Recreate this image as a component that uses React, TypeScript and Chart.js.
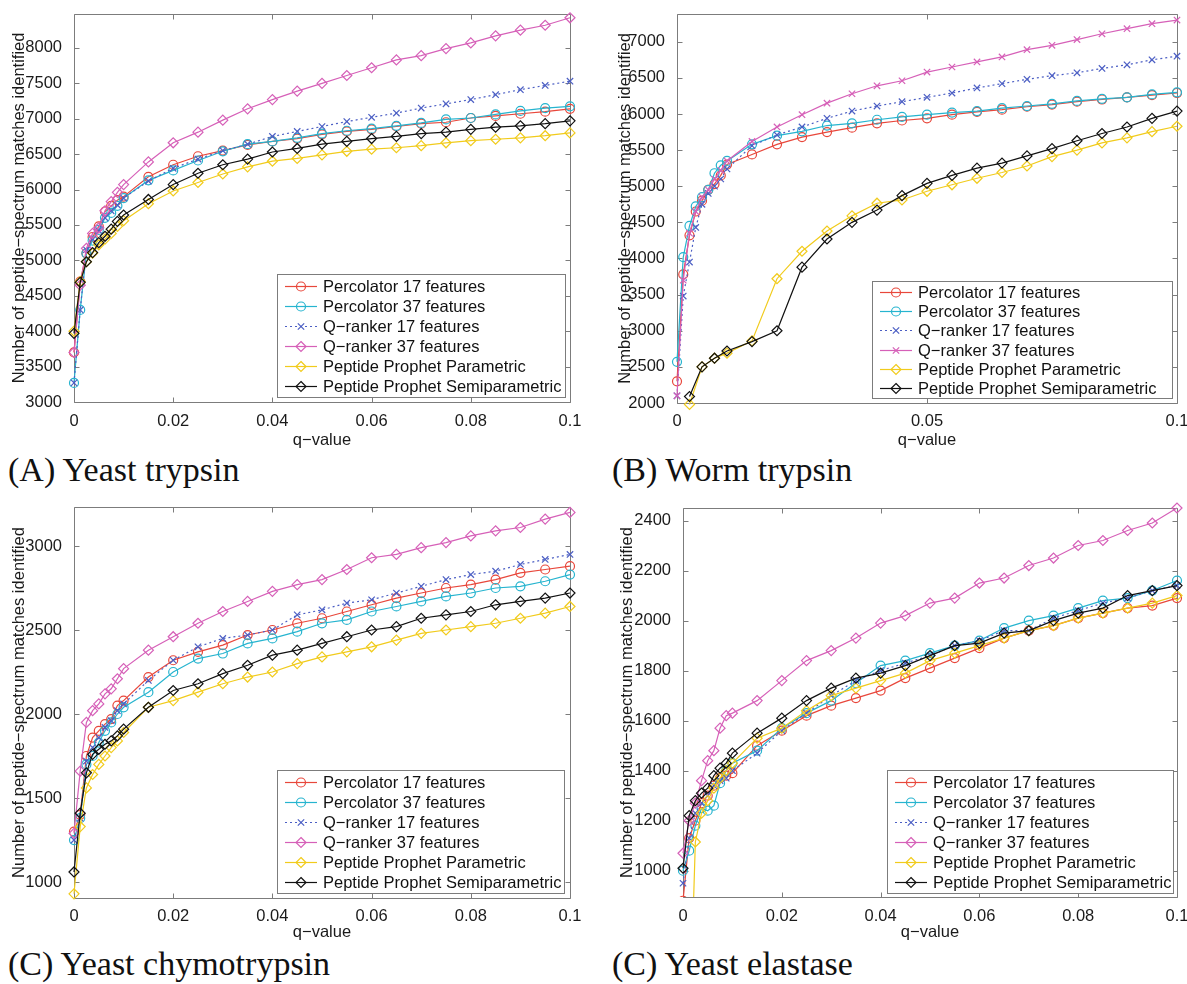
import React, { useEffect, useRef } from "react";
import { Chart, registerables } from "chart.js";

Chart.register(...registerables);

// ---------- data ----------
const Q_VALUES = [0, 0.00125, 0.0025, 0.00375, 0.005, 0.00625, 0.0075, 0.00875, 0.01, 0.015, 0.02, 0.025, 0.03, 0.035, 0.04, 0.045, 0.05, 0.055, 0.06, 0.065, 0.07, 0.075, 0.08, 0.085, 0.09, 0.095, 0.1];

const SERIES_NAMES = [
  "Percolator 17 features",
  "Percolator 37 features",
  "Q\u2212ranker 17 features",
  "Q\u2212ranker 37 features",
  "Peptide Prophet Parametric",
  "Peptide Prophet Semiparametric",
];

const X_TITLE = "q\u2212value";
const Y_TITLE = "Number of peptide\u2212spectrum matches identified";

const PANEL_TITLES = ["(A) Yeast trypsin", "(B) Worm trypsin", "(C) Yeast chymotrypsin", "(C) Yeast elastase"];

// tick labels
const X_TICKS_STD = [0, 0.02, 0.04, 0.06, 0.08, 0.1];
const X_TICKS_WORM = [0, 0.05, 0.1];
const Y_TICKS_A = [3000, 3500, 4000, 4500, 5000, 5500, 6000, 6500, 7000, 7500, 8000];
const Y_TICKS_B = [2000, 2500, 3000, 3500, 4000, 4500, 5000, 5500, 6000, 6500, 7000];
const Y_TICKS_C = [1000, 1500, 2000, 2500, 3000];
const Y_TICKS_D = [1000, 1200, 1400, 1600, 1800, 2000, 2200, 2400];

// (A) Yeast trypsin
const A_PERC17 = [3700, 4700, 5100, 5330, 5480, 5690, 5770, 5850, 5900, 6180, 6350, 6470, 6550, 6630, 6680, 6720, 6780, 6820, 6850, 6890, 6930, 6950, 7010, 7040, 7070, 7100, 7140];
const A_PERC37 = [3270, 4300, 5100, 5280, 5430, 5600, 5670, 5770, 5880, 6130, 6270, 6410, 6540, 6640, 6680, 6730, 6790, 6830, 6860, 6900, 6940, 6990, 7010, 7060, 7110, 7150, 7175];
const A_QR17 = [3270, 4300, 5150, 5300, 5420, 5600, 5700, 5780, 5880, 6120, 6300, 6430, 6550, 6640, 6750, 6820, 6890, 6960, 7020, 7080, 7150, 7210, 7270, 7340, 7410, 7470, 7530];
const A_QR37 = [3700, 4650, 5170, 5380, 5460, 5700, 5830, 5960, 6070, 6390, 6660, 6810, 6980, 7140, 7270, 7390, 7500, 7610, 7720, 7830, 7890, 7990, 8070, 8170, 8250, 8320, 8425];
const A_PP = [4000, 4700, 4980, 5100, 5220, 5300, 5380, 5480, 5560, 5800, 5980, 6100, 6220, 6320, 6400, 6440, 6490, 6540, 6570, 6590, 6620, 6660, 6690, 6710, 6730, 6760, 6800];
const A_PPS = [3970, 4690, 4980, 5110, 5250, 5340, 5440, 5550, 5640, 5860, 6070, 6230, 6350, 6430, 6530, 6580, 6640, 6680, 6720, 6750, 6790, 6810, 6850, 6880, 6900, 6930, 6970];

// (B) Worm trypsin
const B_PERC17 = [2300, 3780, 4320, 4650, 4800, 4950, 5030, 5150, 5300, 5440, 5580, 5680, 5750, 5810, 5870, 5910, 5940, 5990, 6030, 6060, 6100, 6130, 6170, 6200, 6230, 6260, 6290];
const B_PERC37 = [2570, 4020, 4450, 4720, 4850, 4950, 5180, 5290, 5350, 5580, 5700, 5760, 5840, 5870, 5920, 5960, 5990, 6020, 6040, 6080, 6110, 6140, 6180, 6210, 6230, 6270, 6300];
const B_QR17 = [2100, 3480, 3950, 4430, 4750, 4900, 5000, 5100, 5240, 5560, 5710, 5820, 5940, 6040, 6110, 6170, 6230, 6290, 6360, 6420, 6480, 6530, 6570, 6630, 6680, 6750, 6800];
const B_QR37 = [2100, 3700, 4350, 4650, 4850, 4950, 5100, 5220, 5350, 5620, 5820, 5990, 6150, 6280, 6390, 6460, 6580, 6650, 6720, 6790, 6890, 6950, 7030, 7110, 7180, 7250, 7300];
const B_PP = [null, null, 1980, null, 2500, null, 2620, null, 2690, 2860, 3720, 4100, 4380, 4590, 4765, 4810, 4930, 5020, 5110, 5190, 5280, 5410, 5500, 5600, 5670, 5755, 5830];
const B_PPS = [null, null, 2090, null, 2500, null, 2620, null, 2720, 2850, 3000, 3880, 4270, 4500, 4670, 4870, 5040, 5150, 5250, 5320, 5420, 5520, 5630, 5730, 5820, 5940, 6040];

// (C) Yeast chymotrypsin
const C_PERC17 = [1300, 1400, 1750, 1860, 1900, 1940, 1970, 2050, 2080, 2220, 2320, 2370, 2410, 2470, 2500, 2540, 2570, 2610, 2650, 2690, 2720, 2750, 2770, 2800, 2840, 2860, 2880];
const C_PERC37 = [1250, 1380, 1700, 1750, 1830, 1900, 1950, 2000, 2040, 2130, 2250, 2330, 2360, 2420, 2450, 2490, 2540, 2560, 2610, 2640, 2670, 2700, 2720, 2750, 2760, 2790, 2830];
const C_QR17 = [1250, 1380, 1720, 1800, 1860, 1920, 1960, 2020, 2060, 2200, 2320, 2400, 2450, 2470, 2500, 2590, 2620, 2660, 2680, 2720, 2760, 2800, 2830, 2850, 2890, 2920, 2950];
const C_QR37 = [1290, 1660, 1950, 2020, 2060, 2120, 2150, 2210, 2270, 2380, 2460, 2540, 2610, 2670, 2730, 2770, 2800, 2860, 2930, 2950, 2990, 3020, 3060, 3090, 3110, 3160, 3200];
const C_PP = [930, 1330, 1560, 1640, 1700, 1750, 1800, 1840, 1890, 2040, 2080, 2130, 2180, 2220, 2250, 2300, 2340, 2370, 2400, 2440, 2480, 2500, 2520, 2540, 2570, 2600, 2640];
const C_PPS = [1060, 1410, 1650, 1760, 1790, 1820, 1840, 1870, 1910, 2040, 2140, 2180, 2240, 2290, 2350, 2380, 2420, 2460, 2500, 2520, 2570, 2590, 2610, 2650, 2670, 2690, 2720];

// (C) Yeast elastase
const D_PERC17 = [880, 1130, 1200, 1270, 1300, 1340, 1370, 1380, 1390, 1500, 1560, 1620, 1660, 1690, 1720, 1770, 1810, 1850, 1890, 1930, 1960, 1980, 2010, 2030, 2050, 2060, 2090];
const D_PERC37 = [1000, 1080, 1180, 1250, 1240, 1260, 1350, 1400, 1430, 1480, 1570, 1630, 1680, 1750, 1820, 1840, 1870, 1900, 1920, 1970, 2000, 2020, 2050, 2080, 2090, 2120, 2160];
const D_QR17 = [950, 1130, 1230, 1270, 1300, 1340, 1360, 1370, 1400, 1470, 1560, 1630, 1700, 1760, 1800, 1830, 1860, 1900, 1920, 1960, 1960, 2010, 2040, 2070, 2090, 2120, 2140];
const D_QR37 = [1070, 1200, 1270, 1360, 1440, 1480, 1570, 1620, 1630, 1680, 1760, 1840, 1880, 1930, 1990, 2020, 2070, 2090, 2150, 2170, 2220, 2250, 2300, 2320, 2360, 2390, 2450];
const D_PP = [null, 300, 1115, 1230, 1280, 1330, 1370, 1400, 1430, 1530, 1570, 1640, 1700, 1730, 1760, 1790, 1840, 1870, 1900, 1930, 1960, 1980, 2010, 2030, 2050, 2070, 2100];
const D_PPS = [1010, 1220, 1280, 1310, 1330, 1380, 1410, 1430, 1470, 1550, 1610, 1680, 1730, 1770, 1790, 1820, 1860, 1900, 1910, 1950, 1960, 2000, 2030, 2050, 2100, 2120, 2140];

// ---------- styles ----------
const SERIES_COLORS = ["#e8473b", "#26b4cf", "#4c5fc4", "#d660b8", "#f1cb1c", "#111111"];
const SERIES_DASH = [[], [], [2, 3], [], [], []];
const POINT_STYLES_DEFAULT = ["circle", "circle", "crossRot", "rectRot", "rectRot", "rectRot"];
const POINT_STYLES_WORM = ["circle", "circle", "crossRot", "crossRot", "rectRot", "rectRot"];
const POINT_RADIUS = { circle: 4.5, rectRot: 5, crossRot: 4.5 };

const TICK_FONT = { family: "'Liberation Sans', Arial, sans-serif", size: 16.5 };
const LEGEND_FONT = "16.5px 'Liberation Sans', Arial, sans-serif";
const AXIS_COLOR = "#7c7c7c";

type PanelCfg = {
  left: number; top: number; width: number; height: number;
  area: { left: number; top: number; right: number; bottom: number };
  yMin: number; yMax: number;
  xTicks: number[]; yTicks: number[];
  yTitlePad: number; xTickPad: number;
  legend: { left: number; top: number; right: number; bottom: number; rowTop: number; rowStep: number };
  series: (number | null)[][];
  pointStyles: string[];
  clipBottom: boolean[];
};

const PANELS: PanelCfg[] = [
  {
    left: 0, top: 0, width: 590, height: 450,
    area: { left: 74, top: 13, right: 570, bottom: 402 },
    yMin: 3000, yMax: 8480, xTicks: X_TICKS_STD, yTicks: Y_TICKS_A, yTitlePad: 10, xTickPad: 2,
    legend: { left: 277, top: 274, right: 565, bottom: 397, rowTop: 286, rowStep: 20 },
    series: [A_PERC17, A_PERC37, A_QR17, A_QR37, A_PP, A_PPS],
    pointStyles: POINT_STYLES_DEFAULT,
    clipBottom: [false, false, false, false, false, false],
  },
  {
    left: 590, top: 0, width: 620, height: 450,
    area: { left: 87, top: 12, right: 587, bottom: 403 },
    yMin: 2000, yMax: 7385, xTicks: X_TICKS_WORM, yTicks: Y_TICKS_B, yTitlePad: 26, xTickPad: 1,
    legend: { left: 282, top: 281, right: 582, bottom: 398, rowTop: 292, rowStep: 19.2 },
    series: [B_PERC17, B_PERC37, B_QR17, B_QR37, B_PP, B_PPS],
    pointStyles: POINT_STYLES_WORM,
    clipBottom: [false, false, false, false, false, false],
  },
  {
    left: 0, top: 490, width: 590, height: 452,
    area: { left: 74, top: 17, right: 570, bottom: 408 },
    yMin: 905, yMax: 3232, xTicks: X_TICKS_STD, yTicks: Y_TICKS_C, yTitlePad: 10, xTickPad: 1,
    legend: { left: 277, top: 280, right: 564, bottom: 403, rowTop: 292, rowStep: 20 },
    series: [C_PERC17, C_PERC37, C_QR17, C_QR37, C_PP, C_PPS],
    pointStyles: POINT_STYLES_DEFAULT,
    clipBottom: [false, false, false, false, false, false],
  },
  {
    left: 590, top: 490, width: 620, height: 452,
    area: { left: 93, top: 18, right: 587, bottom: 407 },
    yMin: 895, yMax: 2450, xTicks: X_TICKS_STD, yTicks: Y_TICKS_D, yTitlePad: 28, xTickPad: 2,
    legend: { left: 297, top: 280, right: 583, bottom: 403, rowTop: 292, rowStep: 20 },
    series: [D_PERC17, D_PERC37, D_QR17, D_QR37, D_PP, D_PPS],
    pointStyles: POINT_STYLES_DEFAULT,
    clipBottom: [true, false, false, false, true, false],
  },
];

function drawMarker(ctx: CanvasRenderingContext2D, style: string, x: number, y: number, r: number, color: string) {
  ctx.save();
  ctx.setLineDash([]);
  ctx.strokeStyle = color;
  ctx.lineWidth = 1.2;
  ctx.beginPath();
  if (style === "circle") {
    ctx.arc(x, y, r, 0, Math.PI * 2);
  } else if (style === "rectRot") {
    ctx.moveTo(x, y - r);
    ctx.lineTo(x + r, y);
    ctx.lineTo(x, y + r);
    ctx.lineTo(x - r, y);
    ctx.closePath();
  } else {
    const d = r * Math.SQRT1_2;
    ctx.moveTo(x - d, y - d);
    ctx.lineTo(x + d, y + d);
    ctx.moveTo(x + d, y - d);
    ctx.lineTo(x - d, y + d);
  }
  ctx.stroke();
  ctx.restore();
}

function makeFramePlugin(cfg: PanelCfg, id: string) {
  return {
    id,
    beforeDatasetsDraw(chart: any) {
      const { ctx, chartArea: a, scales } = chart;
      ctx.save();
      ctx.strokeStyle = AXIS_COLOR;
      ctx.lineWidth = 1;
      ctx.beginPath();
      const L = Math.round(a.left) + 0.5, R = Math.round(a.right) + 0.5;
      const T = Math.round(a.top) + 0.5, B = Math.round(a.bottom) + 0.5;
      ctx.rect(L, T, R - L, B - T);
      const tl = 5;
      scales.x.ticks.forEach((t: any) => {
        const px = Math.round(scales.x.getPixelForValue(t.value)) + 0.5;
        ctx.moveTo(px, B); ctx.lineTo(px, B - tl);
        ctx.moveTo(px, T); ctx.lineTo(px, T + tl);
      });
      scales.y.ticks.forEach((t: any) => {
        const py = Math.round(scales.y.getPixelForValue(t.value)) + 0.5;
        ctx.moveTo(L, py); ctx.lineTo(L + tl, py);
        ctx.moveTo(R, py); ctx.lineTo(R - tl, py);
      });
      ctx.stroke();
      ctx.restore();
    },
    afterDatasetsDraw(chart: any) {
      const { ctx } = chart;
      const lg = cfg.legend;
      ctx.save();
      ctx.fillStyle = "#ffffff";
      ctx.fillRect(lg.left, lg.top, lg.right - lg.left, lg.bottom - lg.top);
      ctx.strokeStyle = AXIS_COLOR;
      ctx.lineWidth = 1;
      ctx.strokeRect(lg.left + 0.5, lg.top + 0.5, lg.right - lg.left, lg.bottom - lg.top);
      ctx.font = LEGEND_FONT;
      ctx.textBaseline = "middle";
      ctx.textAlign = "left";
      SERIES_NAMES.forEach((name, i) => {
        const y = Math.round(lg.rowTop + i * lg.rowStep) + 0.5;
        const x0 = lg.left + 8, x1 = lg.left + 40;
        ctx.save();
        ctx.strokeStyle = SERIES_COLORS[i];
        ctx.lineWidth = 1.2;
        ctx.setLineDash(SERIES_DASH[i]);
        ctx.beginPath();
        ctx.moveTo(x0, y);
        ctx.lineTo(x1, y);
        ctx.stroke();
        ctx.restore();
        const ps = cfg.pointStyles[i];
        drawMarker(ctx, ps, (x0 + x1) / 2, y, (POINT_RADIUS as any)[ps], SERIES_COLORS[i]);
        ctx.fillStyle = "#111111";
        ctx.fillText(name, lg.left + 46, y + 1);
      });
      ctx.restore();
    },
  };
}

function fmtQ(v: number) {
  return String(Number(Number(v).toFixed(4)));
}

function Panel({ cfg, index }: { cfg: PanelCfg; index: number }) {
  const ref = useRef<HTMLCanvasElement | null>(null);
  useEffect(() => {
    if (!ref.current) return;
    const datasets = cfg.series.map((vals, i) => {
      const ps = cfg.pointStyles[i];
      const r = (POINT_RADIUS as any)[ps];
      return {
        label: SERIES_NAMES[i],
        data: Q_VALUES.map((q, j) => ({ x: q, y: vals[j] })),
        borderColor: SERIES_COLORS[i],
        backgroundColor: "rgba(0,0,0,0)",
        borderWidth: 1.2,
        borderDash: SERIES_DASH[i],
        pointStyle: ps,
        pointRadius: r,
        pointHoverRadius: r,
        pointBorderWidth: 1.2,
        pointBorderColor: SERIES_COLORS[i],
        pointBackgroundColor: "rgba(0,0,0,0)",
        tension: 0,
        spanGaps: true,
        order: 5 - i,
        clip: cfg.clipBottom[i] ? { left: 8, top: 8, right: 8, bottom: 0 } : 8,
      };
    });
    const chart = new Chart(ref.current, {
      type: "line",
      data: { datasets } as any,
      options: {
        responsive: false,
        animation: false,
        devicePixelRatio: 1,
        events: [],
        layout: { padding: { left: 0, top: cfg.area.top, right: cfg.width - cfg.area.right, bottom: 0 } },
        plugins: { legend: { display: false }, tooltip: { enabled: false } },
        scales: {
          x: {
            type: "linear",
            min: 0,
            max: 0.1,
            grid: { display: false },
            border: { display: false },
            ticks: {
              padding: cfg.xTickPad,
              maxRotation: 0,
              autoSkip: false,
              font: TICK_FONT,
              color: "#1a1a1a",
              callback: (v: any) => fmtQ(v),
            },
            afterBuildTicks: (s: any) => { s.ticks = cfg.xTicks.map((v) => ({ value: v })); },
            title: { display: true, text: X_TITLE, font: TICK_FONT, color: "#1a1a1a", padding: { top: 0, bottom: 0 } },
            afterFit: (s: any) => { s.height = cfg.height - cfg.area.bottom; },
          },
          y: {
            type: "linear",
            min: cfg.yMin,
            max: cfg.yMax,
            grid: { display: false },
            border: { display: false },
            ticks: {
              padding: 4,
              autoSkip: false,
              font: TICK_FONT,
              color: "#1a1a1a",
              callback: (v: any) => String(v),
            },
            afterBuildTicks: (s: any) => { s.ticks = cfg.yTicks.map((v) => ({ value: v })); },
            title: { display: true, text: Y_TITLE, font: TICK_FONT, color: "#1a1a1a", padding: { top: cfg.yTitlePad, bottom: 0 } },
            afterFit: (s: any) => { s.width = cfg.area.left; },
          },
        },
      } as any,
      plugins: [makeFramePlugin(cfg, "frame" + index)],
    });
    return () => chart.destroy();
  }, [cfg, index]);
  return (
    <canvas
      ref={ref}
      width={cfg.width}
      height={cfg.height}
      style={{ position: "absolute", left: cfg.left, top: cfg.top, width: cfg.width, height: cfg.height }}
    />
  );
}

const SUBTITLE_POS = [
  { left: 8, top: 450 },
  { left: 612, top: 450 },
  { left: 8, top: 944 },
  { left: 612, top: 944 },
];

export default function App() {
  return (
    <div style={{ position: "absolute", left: 0, top: 0, width: 1187, height: 984, overflow: "hidden", background: "#ffffff" }}>
      {PANELS.map((p, i) => (
        <Panel key={i} cfg={p} index={i} />
      ))}
      {PANEL_TITLES.map((t, i) => (
        <div
          key={t + i}
          style={{
            position: "absolute",
            left: SUBTITLE_POS[i].left,
            top: SUBTITLE_POS[i].top,
            fontFamily: "'Liberation Serif', 'Times New Roman', serif",
            fontSize: 34,
            lineHeight: "40px",
            color: "#111",
            whiteSpace: "nowrap",
          }}
        >
          {t}
        </div>
      ))}
    </div>
  );
}
